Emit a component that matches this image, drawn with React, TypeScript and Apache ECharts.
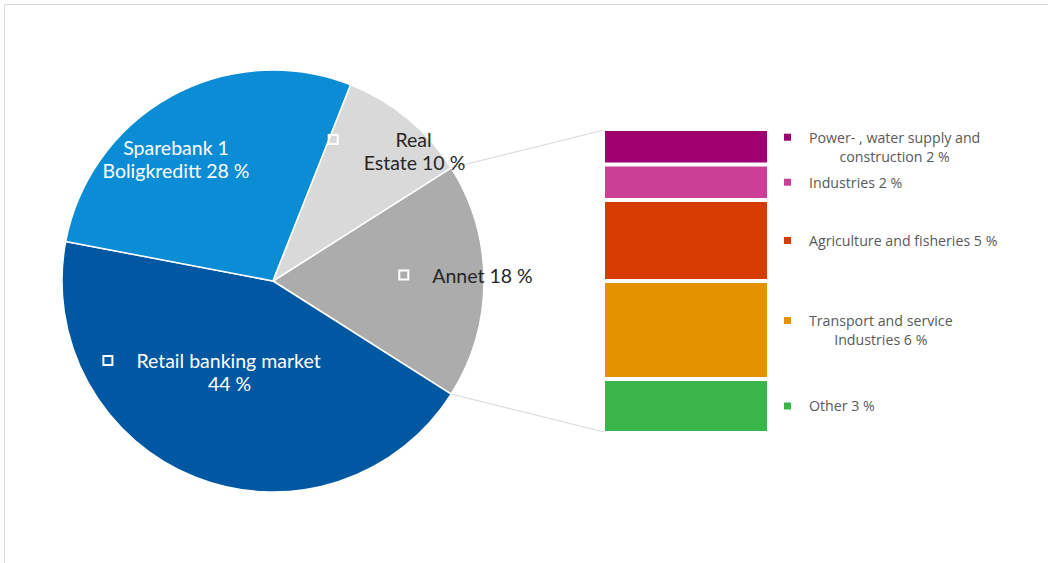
import React, { useEffect, useRef } from "react";
import * as echarts from "echarts";

// ---- data ----
const pieNames = ["Annet", "Retail banking market", "Sparebank 1 Boligkreditt", "Real Estate"];
const pieValues = [18, 44, 28, 10];
const pieLabels = ["Annet 18 %", "Retail banking market\n44 %", "Sparebank 1\nBoligkreditt 28 %", "Real\nEstate 10 %"];
const pieHasKey = [true, true, false, true];

const barNames = ["Other", "Transport and service Industries", "Agriculture and fisheries", "Industries", "Power- , water supply and construction"];
const barValues = [3.2, 5.8, 4.8, 2.1, 2.1];
const barLabels = ["Other 3 %", "Transport and service\nIndustries 6 %", "Agriculture and fisheries 5 %", "Industries 2 %", "Power- , water supply and\nconstruction 2 %"];

// ---- styles ----
const pieColors = ["#acacac", "#0057a2", "#0a8dd5", "#d9d9d9"];
const pieTextColors = ["#262626", "#ffffff", "#ffffff", "#262626"];
const pieLabelPos = [[466, 275], [212, 372], [176, 159], [397, 151]];
const barColors = ["#39b54a", "#e39200", "#d83b01", "#cc3f96", "#9e0070"];

const PIE_CX = 273, PIE_CY = 281, PIE_R = 211;
const GRID_L = 603, GRID_T = 129, GRID_W = 166, GRID_H = 304;
const FONT = "Lato, 'Noto Sans', sans-serif";
const LEGEND_FONT = "'Open Sans', 'Noto Sans', sans-serif";

function pieRich(text: string, key: boolean) {
  const lines = text.split("\n");
  return lines
    .map((l, i) => (key ? (i === 0 ? "{sq|}{gap|}" : "{sp|}") : "") + `{t|${l}}`)
    .join("\n");
}

function barRich(text: string) {
  const lines = text.split("\n");
  return lines.map((l, i) => (i === 0 ? "{sq|}{gap|}" : "{sp|}") + `{t|${l}}`).join("\n");
}

export default function App() {
  const ref = useRef<HTMLDivElement>(null);
  useEffect(() => {
    if (!ref.current) return;
    const chart = echarts.init(ref.current, undefined, { renderer: "svg" });
    const total = pieValues.reduce((a, b) => a + b, 0);
    const startAngle = (pieValues[0] / total) * 360 / 2;
    const rad = (startAngle * Math.PI) / 180;
    const topPt = [PIE_CX + PIE_R * Math.cos(rad), PIE_CY - PIE_R * Math.sin(rad)];
    const botPt = [PIE_CX + PIE_R * Math.cos(rad), PIE_CY + PIE_R * Math.sin(rad)];

    const pieData = pieNames.map((n, i) => ({
      name: n,
      value: pieValues[i],
      itemStyle: { color: pieColors[i] },
      label: {
        formatter: pieRich(pieLabels[i], pieHasKey[i]),
        rich: {
          sq: { width: 9, height: 9, borderColor: "#ffffff", borderWidth: 2, align: "left" },
          gap: { width: 24, align: "left" },
          sp: { width: 35, align: "left" },
          t: { color: pieTextColors[i], fontSize: 19.5, fontFamily: FONT, lineHeight: 23, align: "center" },
        },
      },
    }));

    const barSeries = barNames.map((n, i) => ({
      type: "bar",
      name: n,
      stack: "annet",
      xAxisIndex: 0,
      yAxisIndex: 0,
      barWidth: "100%",
      data: [barValues[i]],
      itemStyle: { color: barColors[i], borderColor: "#ffffff", borderWidth: 2 },
      label: {
        show: true,
        position: "right",
        distance: 15,
        align: "left",
        verticalAlign: "middle",
        formatter: barRich(barLabels[i]),
        rich: {
          sq: { width: 7, height: 7, backgroundColor: barColors[i], align: "left" },
          gap: { width: 18, align: "left" },
          sp: { width: 25, align: "left" },
          t: { color: "#595959", fontSize: 14.2, fontFamily: LEGEND_FONT, lineHeight: 19, align: "center" },
        },
      },
    }));

    chart.setOption({
      animation: false,
      backgroundColor: "#ffffff",
      grid: { left: GRID_L, top: GRID_T, width: GRID_W, height: GRID_H },
      xAxis: { type: "category", data: ["Annet"], show: false },
      yAxis: { type: "value", min: 0, max: barValues.reduce((a, b) => a + b, 0), show: false },
      graphic: [
        { type: "rect", shape: { x: 4.5, y: 4.5, width: 1100, height: 600 }, style: { fill: "none", stroke: "#d9d9d9", lineWidth: 1 }, silent: true },
        { type: "line", shape: { x1: topPt[0], y1: topPt[1], x2: GRID_L + 1, y2: GRID_T + 1 }, style: { stroke: "#d6d6d6", lineWidth: 1 }, z: -1 },
        { type: "line", shape: { x1: botPt[0], y1: botPt[1], x2: GRID_L + 1, y2: GRID_T + GRID_H - 1 }, style: { stroke: "#d6d6d6", lineWidth: 1 }, z: -1 },
      ],
      series: [
        {
          type: "pie",
          center: [PIE_CX, PIE_CY],
          radius: PIE_R,
          startAngle,
          clockwise: true,
          data: pieData,
          itemStyle: { borderColor: "#ffffff", borderWidth: 1.5 },
          label: { show: true, position: "inside" },
          labelLine: { show: false },
          labelLayout: (params: any) => ({
            x: pieLabelPos[params.dataIndex][0],
            y: pieLabelPos[params.dataIndex][1],
            align: "center",
            verticalAlign: "middle",
          }),
          emphasis: { disabled: true },
        },
        ...barSeries,
      ],
    });
    return () => chart.dispose();
  }, []);
  return <div ref={ref} style={{ position: "absolute", left: 0, top: 0, width: 1048, height: 563 }} />;
}
